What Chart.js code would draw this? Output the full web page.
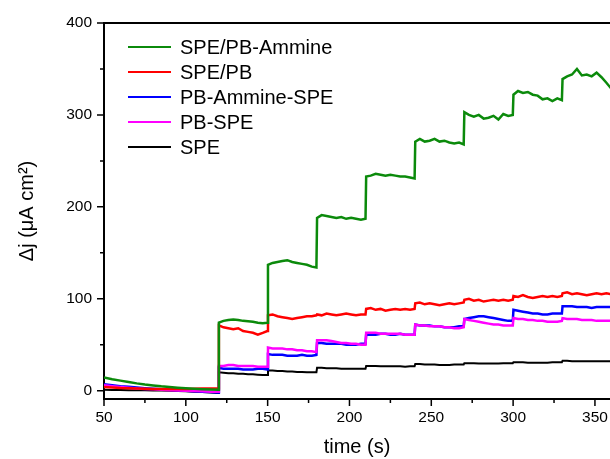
<!DOCTYPE html>
<html>
<head>
<meta charset="utf-8">
<script src="https://cdn.jsdelivr.net/npm/chart.js@4/dist/chart.umd.min.js"></script>
<style>
  html, body { margin: 0; padding: 0; background: #fff; }
  canvas { display: block; }
</style>
</head>
<body>
<canvas id="ampChart" width="610" height="459"></canvas>
<script>
// time axis (s), shared by all curves; steps every 30 s from 120 s
var times = [
  50, 55, 60, 65, 70, 75, 80, 85, 90, 95, 100, 105, 110, 115, 119.8,
  120.2, 123, 126, 129, 132, 135, 138, 141, 144, 147, 149.8,
  150.2, 153, 156, 159, 162, 165, 168, 171, 174, 177, 179.8,
  180.2, 183, 186, 189, 192, 195, 198, 201, 204, 207, 209.8,
  210.2, 213, 216, 219, 222, 225, 228, 231, 234, 237, 239.8,
  240.2, 243, 246, 249, 252, 255, 258, 261, 264, 267, 269.8,
  270.2, 273, 276, 279, 282, 285, 288, 291, 294, 297, 299.8,
  300.2, 303, 306, 309, 312, 315, 318, 321, 324, 327, 329.8,
  330.2, 333, 336, 339, 342, 345, 348, 351, 354, 357, 359.8
];

var spePbAmmine = [
  14.5, 12.5, 11, 9.5, 8, 6.8, 5.8, 4.8, 4, 3.3, 2.7, 2.1, 1.6, 1.2, 1,
  74, 76, 77, 77.5, 77, 76, 75.5, 75, 74, 73.5, 74,
  137, 139, 140, 141, 142, 140, 139, 138, 137, 135, 134,
  188, 191, 190, 189, 188, 189, 187, 188, 187, 186, 187,
  233, 234, 236, 235, 234, 235, 234, 233, 233, 232, 231,
  271, 274, 271, 272, 274, 271, 272, 270, 269, 270, 268,
  303, 300, 298, 300, 296, 297, 299, 295, 301, 299, 300,
  322, 326, 324, 325, 322, 321, 317, 318, 315, 318, 316,
  339, 342, 344, 350, 343, 344, 342, 346, 341, 335, 329
];

var spePb = [
  4, 3.5, 3, 2.8, 2.5, 2.2, 2, 1.8, 1.8, 1.8, 2, 2.2, 2.3, 2.5, 2.5,
  71, 69, 68, 67, 68, 65, 64, 63, 61, 63, 65,
  82, 83, 81, 80, 79, 78, 79, 80, 81, 81, 82,
  83, 82, 84, 83, 82, 83, 84, 83, 82, 83, 83,
  89, 90, 88, 89, 87, 88, 89, 88, 89, 88, 89,
  95, 96, 94, 95, 94, 93, 94, 95, 94, 95, 96,
  99, 100, 98, 99, 97, 98, 99, 98, 99, 98, 99,
  103, 102, 104, 102, 101, 102, 103, 102, 103, 102, 103,
  106, 107, 105, 106, 105, 104, 105, 106, 105, 106, 105
];

var pbAmmineSpe = [
  7, 6, 5, 4.2, 3.5, 2.8, 2.2, 1.5, 1, 0.5, 0, -0.5, -1, -1.5, -2,
  25, 24, 24, 24, 24, 23, 23, 23, 24, 24, 23,
  40, 39, 39, 39, 38, 38, 38, 39, 38, 38, 39,
  52, 52, 51, 51, 51, 51, 50, 50, 50, 51, 51,
  61, 61, 61, 62, 62, 61, 61, 62, 61, 61, 61,
  72, 71, 71, 71, 70, 70, 69, 69, 69, 70, 70,
  78, 79, 80, 81, 81, 80, 79, 78, 77, 76, 76,
  88, 87, 86, 85, 84, 84, 83, 83, 84, 84, 84,
  92, 92, 92, 91, 91, 91, 90, 91, 91, 91, 91
];

var pbSpe = [
  6, 5, 4, 3.2, 2.5, 2, 1.5, 1, 0.5, 0.2, 0, -0.3, -0.5, -1, -1,
  27, 27, 28, 28, 27, 27, 27, 27, 26, 26, 26,
  47, 46, 46, 46, 45, 45, 44, 44, 43, 43, 42,
  55, 55, 55, 54, 53, 52, 52, 51, 51, 50, 50,
  63, 63, 63, 62, 62, 62, 62, 62, 61, 61, 61,
  72, 71, 71, 70, 70, 70, 69, 69, 68, 68, 69,
  78, 77, 76, 75, 74, 73, 72, 72, 71, 71, 71,
  79, 78, 78, 77, 77, 76, 76, 75, 75, 75, 76,
  79, 78, 78, 78, 77, 77, 77, 76, 76, 76, 76
];

var spe = [
  1, 0.8, 0.7, 0.6, 0.5, 0.4, 0.3, 0.2, 0, -0.2, -0.5, -1, -1.5, -2, -2.5,
  20, 19.5, 19, 19, 18.5, 18.5, 18, 18, 17.5, 17, 17,
  22, 22, 21.5, 21.5, 21, 21, 20.5, 20.5, 20, 20, 20,
  25, 25, 24.5, 24.5, 24.5, 24, 24, 24, 24, 24, 24,
  27, 27, 27, 26.5, 26.5, 26.5, 26.5, 26.5, 26, 26.5, 26.5,
  29, 29, 28.5, 28.5, 28.5, 28, 28, 28, 28.5, 28.5, 28.5,
  30, 30, 30, 29.5, 29.5, 29.5, 29.5, 29.5, 30, 30, 30,
  31, 31, 31, 30.5, 30.5, 30.5, 30.5, 30.5, 31, 31, 31,
  32.5, 32.5, 32, 32, 32, 32, 32, 32, 32, 32, 32
];

var seriesNames = ["SPE/PB-Ammine", "SPE/PB", "PB-Ammine-SPE", "PB-SPE", "SPE"];
var seriesColors = ["#0b8a0b", "#ff0000", "#0000ff", "#ff00ff", "#000000"];
var seriesData = [spePbAmmine, spePb, pbAmmineSpe, pbSpe, spe];
var drawOrder = [1, 2, 4, 3, 5]; // lower = on top

var xMajor = [50, 100, 150, 200, 250, 300, 350];
var xMinor = [75, 125, 175, 225, 275, 325];
var yMajor = [0, 100, 200, 300, 400];
var yMinor = [50, 150, 250, 350];

var fontFamily = "'Liberation Sans', Arial, sans-serif";

function toPoints(values) {
  return times.map(function (t, i) { return { x: t, y: values[i] }; });
}

// outward tick marks (major + minor), top frame line
var axisDecor = {
  id: "axisDecor",
  afterDraw: function (chart) {
    var ctx = chart.ctx;
    var area = chart.chartArea;
    var xs = chart.scales.x;
    var ys = chart.scales.y;
    ctx.save();
    ctx.strokeStyle = "#000";
    ctx.lineWidth = 1.5;
    ctx.beginPath();
    xMajor.forEach(function (v) {
      var p = xs.getPixelForValue(v);
      ctx.moveTo(p, area.bottom); ctx.lineTo(p, area.bottom + 7);
    });
    xMinor.forEach(function (v) {
      var p = xs.getPixelForValue(v);
      ctx.moveTo(p, area.bottom); ctx.lineTo(p, area.bottom + 4);
    });
    yMajor.forEach(function (v) {
      var p = ys.getPixelForValue(v);
      ctx.moveTo(area.left, p); ctx.lineTo(area.left - 7, p);
    });
    yMinor.forEach(function (v) {
      var p = ys.getPixelForValue(v);
      ctx.moveTo(area.left, p); ctx.lineTo(area.left - 4, p);
    });
    ctx.stroke();
    ctx.lineWidth = 2;
    ctx.beginPath();
    ctx.moveTo(area.left - 1, area.top);
    ctx.lineTo(area.right, area.top);
    ctx.stroke();
    ctx.restore();
  }
};

// legend drawn inside the plot, upper left
var insideLegend = {
  id: "insideLegend",
  afterDraw: function (chart) {
    var ctx = chart.ctx;
    ctx.save();
    ctx.font = "20px " + fontFamily;
    ctx.textBaseline = "middle";
    ctx.textAlign = "left";
    chart.data.datasets.forEach(function (ds, i) {
      var y = 47 + i * 25;
      ctx.strokeStyle = ds.borderColor;
      ctx.lineWidth = 2;
      ctx.beginPath();
      ctx.moveTo(128, y);
      ctx.lineTo(171, y);
      ctx.stroke();
      ctx.fillStyle = "#000";
      ctx.fillText(ds.label, 180, y + 1);
    });
    ctx.restore();
  }
};

new Chart(document.getElementById("ampChart"), {
  type: "line",
  data: {
    datasets: seriesNames.map(function (name, i) {
      return {
        label: name,
        data: toPoints(seriesData[i]),
        borderColor: seriesColors[i],
        backgroundColor: seriesColors[i],
        borderWidth: i === 4 ? 2 : 2.5,
        pointRadius: 0,
        tension: 0,
        order: drawOrder[i],
      };
    }),
  },
  options: {
    responsive: false,
    animation: false,
    layout: { padding: { top: 23, right: 0, left: 0, bottom: 0 } },
    plugins: {
      legend: { display: false },
      tooltip: { enabled: false },
    },
    scales: {
      x: {
        type: "linear",
        min: 50,
        max: 359.2,
        afterBuildTicks: function (s) { s.ticks = xMajor.map(function (v) { return { value: v }; }); },
        afterFit: function (s) { s.height = 60; s.paddingLeft = 0; s.paddingRight = 0; },
        grid: { display: false, drawTicks: false, tickLength: 0 },
        border: { display: true, color: "#000", width: 2 },
        ticks: {
          color: "#000",
          padding: 9,
          maxRotation: 0,
          autoSkip: false,
          font: { family: fontFamily, size: 15.5 },
        },
        title: {
          display: true,
          text: "time (s)",
          color: "#000",
          padding: { top: 0, bottom: 0 },
          font: { family: fontFamily, size: 20 },
        },
      },
      y: {
        min: -9,
        max: 400,
        afterBuildTicks: function (s) { s.ticks = yMajor.map(function (v) { return { value: v }; }); },
        afterFit: function (s) { s.width = 104; s.paddingTop = 0; s.paddingBottom = 0; },
        grid: { display: false, drawTicks: false, tickLength: 0 },
        border: { display: true, color: "#000", width: 2 },
        ticks: {
          color: "#000",
          padding: 12,
          autoSkip: false,
          font: { family: fontFamily, size: 15.5 },
        },
        title: {
          display: true,
          text: "Δj (μA cm²)",
          color: "#000",
          padding: { top: 15, bottom: 0 },
          font: { family: fontFamily, size: 20 },
        },
      },
    },
  },
  plugins: [axisDecor, insideLegend],
});
</script>
</body>
</html>
